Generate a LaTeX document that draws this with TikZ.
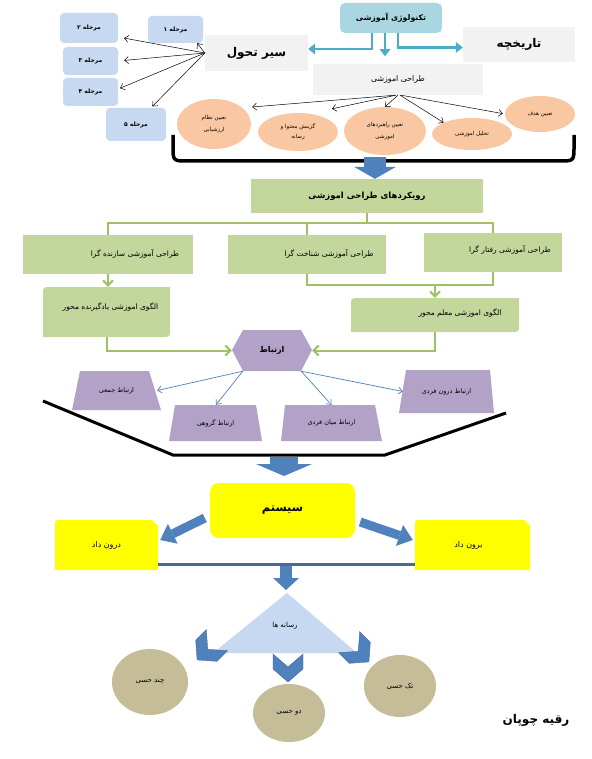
\documentclass[tikz,border=0pt]{standalone}
\usepackage{fontspec}
\usetikzlibrary{arrows.meta,calc,shapes.geometric}
\TeXXeTstate=1
\newfontfamily\arabicfont[Script=Arabic]{DejaVu Sans}
\newcommand{\FA}[1]{{\arabicfont\beginR #1\endR}}
\newcommand{\fsz}[2]{\fontsize{#1}{#2}\selectfont}
\definecolor{techblue}{RGB}{170,214,226}
\definecolor{tealarrow}{RGB}{75,172,198}
\definecolor{lgray}{RGB}{242,242,242}
\definecolor{stageblue}{RGB}{198,217,241}
\definecolor{peach}{RGB}{249,200,162}
\definecolor{gfill}{RGB}{195,214,155}
\definecolor{gline}{RGB}{160,192,100}
\definecolor{purp}{RGB}{179,162,199}
\definecolor{barrow}{RGB}{79,129,189}
\definecolor{khaki}{RGB}{196,189,151}
\definecolor{darkline}{RGB}{74,106,150}
\definecolor{yel}{RGB}{255,255,0}
\definecolor{triblue}{RGB}{198,217,241}
\begin{document}
\begin{tikzpicture}[x=1pt,y=-1pt,
  stagebox/.style={fill=stageblue, rounded corners=4pt, inner sep=0pt, font=\bfseries\fsz{6}{7}},
  graybox/.style={fill=lgray, inner sep=0pt},
  oval/.style={ellipse, fill=peach, inner sep=0pt, font=\fsz{5.5}{9}, align=center},
  fan/.style={draw=black, line width=0.5pt, -{Straight Barb[length=4pt,width=7pt]}},
  tealarr/.style={draw=tealarrow, line width=2.5pt, -{Triangle[length=7pt,width=11pt,line width=0pt]}},
  greenbox/.style={fill=gfill, inner sep=0pt},
  plain/.style={inner sep=0pt},
  boxtext/.style={inner sep=0pt, font=\fsz{7.5}{9}},
  gl/.style={draw=gline, line width=2pt},
  glarr/.style={gl, -{Straight Barb[length=5pt,width=10pt]}},
  thinblue/.style={draw=barrow, line width=0.7pt, -{Straight Barb[length=4pt,width=7pt]}},
  blockarr/.style={draw=barrow},
  khakiball/.style={ellipse, fill=khaki, inner sep=0pt, font=\fsz{7}{9}},
  chev/.pic={\fill[barrow, draw=darkline, line width=0.4pt] (-15,-14) -- (0,-1) -- (15,-14) -- (15,1) -- (0,14) -- (-15,1) -- cycle;}
]
\useasboundingbox (0,0) rectangle (591,759);
\fill[white] (0,0) rectangle (591,759);

% ---------- top ----------
\node[fill=techblue, rounded corners=5pt, inner sep=0pt, minimum width=102pt, minimum height=30pt,
      font=\bfseries\fsz{7.8}{9}] (tech) at (391,18) {\FA{تکنولوژی آموزشی}};
\node[graybox, minimum width=112pt, minimum height=35pt, font=\bfseries\fsz{12}{14}] (tarikh) at (519,44.5) {\FA{تاریخچه}};
\node[graybox, minimum width=103pt, minimum height=36pt, font=\bfseries\fsz{12}{14}] (sir) at (256.5,53) {\FA{سیر تحول}};
\node[graybox, minimum width=170pt, minimum height=31pt, font=\fsz{7.8}{9}] (tarahi) at (398,79.5) {\FA{طراحی اموزشی}};

\draw[tealarr] ($(tech.south)+(-19,0)$) |- ($(sir.east)+(0,-4)$);
\draw[tealarr] ($(tech.south)+(-6,0)$) -- ($(tech.south)+(-6,23)$);
\draw[tealarr] ($(tech.south)+(7,0)$) |- ($(tarikh.west)+(0,3)$);

% stages
\node[stagebox, minimum width=55pt, minimum height=27pt] (m1) at (175.5,29.5) {\FA{مرحله ۱}};
\node[stagebox, minimum width=58pt, minimum height=30pt] (m2) at (89,28) {\FA{مرحله ۲}};
\node[stagebox, minimum width=55pt, minimum height=28pt] (m3) at (90.5,61) {\FA{مرحله ۳}};
\node[stagebox, minimum width=55pt, minimum height=28pt] (m4) at (90.5,92) {\FA{مرحله ۴}};
\node[stagebox, minimum width=60pt, minimum height=33pt] (m5) at (136,124.5) {\FA{مرحله ۵}};

\draw[fan] (sir.west) -- ($(m1.south east)+(-6,0)$);
\draw[fan, shorten >=6pt] (sir.west) -- ($(m2.east)+(0,9)$);
\draw[fan, shorten >=6pt] (sir.west) -- (m3.east);
\draw[fan, shorten >=2pt] (sir.west) -- ($(m4.east)+(0,-3)$);
\draw[fan, shorten >=2pt] (sir.west) -- ($(m5.north)+(15,0)$);

% ellipses
\node[oval, minimum width=74pt, minimum height=50pt] (e1) at (214,124) {\FA{تعیین نظام}\\[3pt]\FA{ارزشیابی}};
\node[oval, minimum width=80pt, minimum height=38pt] (e2) at (298,132) {\FA{گزینش محتوا و}\\[1pt]\FA{رسانه}};
\node[oval, minimum width=82pt, minimum height=48pt] (e3) at (385,131) {\FA{تعیین راهبردهای}\\[3pt]\FA{اموزشی}};
\node[oval, minimum width=80pt, minimum height=32pt] (e4) at (472,134) {\FA{تحلیل اموزشی}};
\node[oval, minimum width=70pt, minimum height=36pt] (e5) at (540,114) {\FA{تعیین هدف}};

\draw[fan] ($(tarahi.south)+(-3,0)$) -- ($(e1.east)+(1,-17)$);
\draw[fan] ($(tarahi.south)+(-2,0)$) -- ($(e2.north)+(34,-4)$);
\draw[fan] (tarahi.south) -- (e3.north);
\draw[fan] ($(tarahi.south)+(2,0)$) -- (e4.north west);
\draw[fan, shorten >=2pt] ($(tarahi.south)+(3,0)$) -- (e5.west);

% bracket
\draw[line width=3.5pt] (173,135) -- (173,146) .. controls (173,161) .. (188,161) -- (559,161) .. controls (574,161) .. (574,146) -- (574,135);

% ---------- green part ----------
\node[greenbox, minimum width=232pt, minimum height=34pt, font=\bfseries\fsz{8.5}{10}] (roy) at (367,196) {\FA{رویکردهای طراحی اموزشی}};
\draw[blockarr, line width=22pt, -{Triangle[length=12pt,width=42pt,line width=0pt]}] (375,157) -- ($(roy.north)+(8,0)$);

\node[greenbox, minimum width=170pt, minimum height=39pt] (saz) at (108,254.5) {};
\node[boxtext] (saztext) at ($(saz.center)+(27,-1)$) {\FA{طراحی آموزشی سازنده گرا}};
\node[greenbox, minimum width=158pt, minimum height=39pt] (shen) at (307,254.5) {};
\node[boxtext] (shentext) at ($(shen.center)+(22,-1)$) {\FA{طراحی آموزشی شناخت گرا}};
\node[greenbox, minimum width=138pt, minimum height=39pt] (raft) at (493,252.5) {};
\node[boxtext] (rafttext) at ($(raft.center)+(17,-3)$) {\FA{طراحی آموزشی رفتار گرا}};

\draw[gl] (roy.south) -- ++(0,10);
\draw[gl] (saz.north) -- ++(0,-12) -| (raft.north);
\draw[gl] (shen.north) -- ++(0,-12);
\draw[gl] (shen.south) -- ++(0,11) -| (raft.south);

\fill[gfill] (43,337) -- (43,295) .. controls (43,287) .. (51,287) -- (170,287) -- (170,329) .. controls (170,337) .. (162,337) -- cycle;
\node[plain, minimum width=127pt, minimum height=50pt] (yad) at (106.5,312) {};
\node[boxtext] (yadtext) at ($(yad.center)+(4,-5)$) {\FA{الگوی اموزشی یادگیرنده محور}};
\fill[gfill] (351,332) -- (351,306) .. controls (351,298) .. (359,298) -- (519,298) -- (519,324) .. controls (519,332) .. (511,332) -- cycle;
\node[plain, minimum width=168pt, minimum height=34pt] (mo) at (435,315) {};
\node[boxtext] (motext) at ($(mo.center)+(25,-2)$) {\FA{الگوی اموزشی معلم محور}};

\draw[glarr] (saz.south) -- (saz.south |- yad.north);
\draw[glarr] ($(mo.north)+(0,-13)$) -- (mo.north);

% hexagon
\fill[purp] (232,350) -- (243,330) -- (301,330) -- (312,350) -- (301,371) -- (243,371) -- cycle;
\node[plain, minimum width=80pt, minimum height=41pt, font=\bfseries\fsz{8}{10}] (hex) at (272,350.5) {\FA{ارتباط}};
\draw[glarr] (yad.south) |- (hex.west);
\draw[glarr] (mo.south) |- (hex.east);

% trapezoids
\fill[purp] (80,371) -- (149,371) -- (161,410) -- (72,410) -- cycle;
\node[plain, minimum width=89pt, minimum height=39pt, font=\fsz{6.5}{8}] (jam) at (116.5,390.5) {\FA{ارتباط جمعی}};
\fill[purp] (175,405) -- (256,405) -- (262,441) -- (169,441) -- cycle;
\node[plain, minimum width=93pt, minimum height=36pt, font=\fsz{6.5}{8}] (goruh) at (215.5,423) {\FA{ارتباط گروهی}};
\fill[purp] (285,405) -- (375,405) -- (382,441) -- (281,441) -- cycle;
\node[plain, minimum width=101pt, minimum height=36pt, font=\fsz{6.5}{8}] (mian) at (331.5,423) {\FA{ارتباط میان فردی}};
\fill[purp] (406,370) -- (490,370) -- (494,413) -- (399,413) -- cycle;
\node[plain, minimum width=95pt, minimum height=43pt, font=\fsz{6.5}{8}] (darun) at (446.5,391.5) {\FA{ارتباط درون فردی}};

\draw[thinblue] ($(hex.south west)+(11,0)$) -- ($(jam.east)+(-4,0)$);
\draw[thinblue] ($(hex.south west)+(11,0)$) -- ($(goruh.north)+(0.5,0)$);
\draw[thinblue] ($(hex.south east)+(-11,0)$) -- (mian.north);
\draw[thinblue] ($(hex.south east)+(-11,0)$) -- ($(darun.west)+(4,0)$);

% funnel
\draw[line width=3pt] (43,401) -- (173,455) -- (385,455) -- (506,413);
\draw[blockarr, line width=28pt, -{Triangle[length=12pt,width=56pt,line width=0pt]}] (284,457) -- (284,476);

% ---------- system ----------
\node[fill=yel, rounded corners=9pt, inner sep=0pt, minimum width=145pt, minimum height=55pt,
      font=\bfseries\fsz{11.5}{13}] (sys) at (282.5,510.5) {\FA{سیستم}};
\fill[yel] (55,570) -- (55,527) .. controls (55,520) .. (62,520) -- (152,520) -- (158,526) -- (158,570) -- cycle;
\node[plain, minimum width=103pt, minimum height=50pt, font=\fsz{8}{10}] (dd) at (106.5,545) {\FA{درون داد}};
\fill[yel] (415,570) -- (415,527) .. controls (415,520) .. (422,520) -- (524,520) -- (530,526) -- (530,570) -- cycle;
\node[plain, minimum width=115pt, minimum height=50pt] (bd) at (472.5,545) {};
\node[plain, font=\fsz{8}{10}] (bdtext) at ($(bd.center)+(-4,0)$) {\FA{برون داد}};

\draw[blockarr, line width=9pt, -{Triangle[length=14pt,width=22pt,line width=0pt]}] ($(sys.west)+(-5,7.5)$) -- ($(dd.east)+(2,-5)$);
\draw[blockarr, line width=9pt, -{Triangle[length=14pt,width=22pt,line width=0pt]}] ($(sys.east)+(5,11.5)$) -- ($(bd.west)+(-2,-5)$);
\draw[darkline, line width=3pt] ($(dd.south east)+(0,-6)$) -- ($(bd.south west)+(0,-6)$);
\draw[blockarr, line width=12pt, -{Triangle[length=12pt,width=26pt,line width=0pt]}] (286,566) -- (286,590);

% media triangle
\fill[triblue] (287,593) -- (357,653) -- (213,653) -- cycle;
\node[plain, font=\fsz{7}{9}] (ras) at (285,626) {\FA{رسانه ها}};

\pic[rotate=-45] at (207,650) {chev};
\pic at (288,668) {chev};
\pic[rotate=45] at (359,652) {chev};

\node[khakiball, minimum width=76pt, minimum height=66pt] (chand) at (150,682) {\FA{چند حسی}};
\node[khakiball, minimum width=72pt, minimum height=58pt] (do) at (289,713) {\FA{دو حسی}};
\node[khakiball, minimum width=72pt, minimum height=62pt] (tak) at (400,686) {\FA{تک حسی}};

\node[plain, font=\bfseries\fsz{12}{14}] (author) at (536,720) {\FA{رقیه چوپان}};
\end{tikzpicture}
\end{document}
